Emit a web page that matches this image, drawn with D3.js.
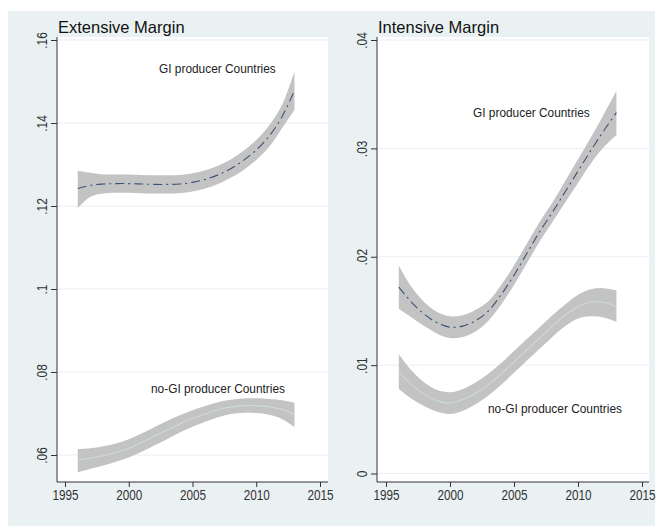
<!DOCTYPE html>
<html>
<head>
<meta charset="utf-8">
<script src="https://cdn.jsdelivr.net/npm/d3@7"></script>
<style>
  html, body { margin: 0; padding: 0; background: #ffffff; }
  svg { display: block; font-family: "Liberation Sans", Arial, sans-serif; }
</style>
</head>
<body>
<svg id="chart" width="661" height="526"></svg>
<script>
// Fitted trends with 95% confidence bands, 1996-2013
const years = [1996,1997,1998,1999,2000,2001,2002,2003,2004,2005,2006,2007,2008,2009,2010,2011,2012,2013];

// Extensive margin
const extGI      = [0.1242,0.1250,0.1253,0.1254,0.1254,0.1253,0.1252,0.1252,0.1253,0.1257,0.1264,0.1275,0.1290,0.1310,0.1335,0.1368,0.1414,0.1478];
const extGIlo    = [0.1195,0.1222,0.1230,0.1232,0.1232,0.1231,0.1230,0.1230,0.1231,0.1235,0.1242,0.1253,0.1268,0.1287,0.1311,0.1342,0.1386,0.1432];
const extGIhi    = [0.1285,0.1280,0.1276,0.1276,0.1276,0.1275,0.1274,0.1274,0.1275,0.1279,0.1286,0.1297,0.1312,0.1333,0.1359,0.1394,0.1442,0.1525];
const extNoGI    = [0.0588,0.0592,0.0598,0.0606,0.0616,0.0630,0.0645,0.0660,0.0675,0.0688,0.0699,0.0709,0.0716,0.0719,0.0719,0.0716,0.0710,0.0697];
const extNoGIlo  = [0.0558,0.0567,0.0575,0.0584,0.0594,0.0608,0.0623,0.0638,0.0654,0.0668,0.0680,0.0691,0.0699,0.0702,0.0701,0.0697,0.0687,0.0668];
const extNoGIhi  = [0.0614,0.0616,0.0621,0.0628,0.0638,0.0652,0.0667,0.0682,0.0696,0.0708,0.0718,0.0727,0.0733,0.0736,0.0737,0.0735,0.0732,0.0726];

// Intensive margin
const intGI      = [0.0172,0.0158,0.0147,0.0139,0.0135,0.0136,0.0141,0.0150,0.0165,0.0183,0.0203,0.0223,0.0241,0.0260,0.0279,0.0298,0.0316,0.0333];
const intGIlo    = [0.0152,0.0144,0.0136,0.0129,0.0125,0.0126,0.0131,0.0141,0.0156,0.0174,0.0194,0.0214,0.0232,0.0250,0.0268,0.0286,0.0301,0.0312];
const intGIhi    = [0.0192,0.0172,0.0158,0.0149,0.0145,0.0146,0.0151,0.0159,0.0174,0.0192,0.0212,0.0232,0.0250,0.0270,0.0290,0.0310,0.0331,0.0353];
const intNoGI    = [0.0094,0.0082,0.0073,0.0067,0.0065,0.0068,0.0074,0.0082,0.0092,0.0103,0.0114,0.0125,0.0136,0.0146,0.0154,0.0158,0.0158,0.0154];
const intNoGIlo  = [0.0078,0.0069,0.0062,0.0057,0.0055,0.0058,0.0064,0.0072,0.0082,0.0093,0.0104,0.0115,0.0126,0.0136,0.0143,0.0145,0.0144,0.0140];
const intNoGIhi  = [0.0110,0.0095,0.0084,0.0077,0.0075,0.0078,0.0084,0.0092,0.0102,0.0113,0.0124,0.0135,0.0146,0.0156,0.0165,0.0170,0.0171,0.0169];

const xTicks = [1995,2000,2005,2010,2015];
const extTicks = [0.06,0.08,0.10,0.12,0.14,0.16];
const intTicks = [0,0.01,0.02,0.03,0.04];

const seriesNames = ["GI producer Countries","no-GI producer Countries"];
const panelTitles = ["Extensive Margin","Intensive Margin"];

const svg = d3.select("#chart");

// graph region background
svg.append("rect").attr("x",8).attr("y",11).attr("width",647).attr("height",515).attr("fill","#eaf1f3");

const fmtTick = v => v === 0 ? "0" : d3.format(".2~f")(v).replace(/^0/, "");

function panel(cfg) {
  const g = svg.append("g");
  const x = d3.scaleLinear().domain([1995,2015]).range(cfg.xRange);
  const y = d3.scaleLinear().domain(cfg.yDomain).range(cfg.yRange);
  const [px0, px1, py0, py1] = cfg.plot;

  // plot region
  g.append("rect").attr("x",px0).attr("y",py0).attr("width",px1-px0).attr("height",py1-py0).attr("fill","#ffffff");

  // horizontal grid
  g.append("g").selectAll("line").data(cfg.yTicks).join("line")
    .attr("x1",px0).attr("x2",px1)
    .attr("y1",d=>y(d)).attr("y2",d=>y(d))
    .attr("stroke","#e8eff2").attr("stroke-width",1);

  const curve = d3.curveCatmullRom.alpha(0.5);
  cfg.series.forEach(s => {
    const area = d3.area().curve(curve)
      .x((d,i)=>x(years[i])).y0((d,i)=>y(s.lo[i])).y1((d,i)=>y(s.hi[i]));
    g.append("path").datum(s.mid).attr("d",area).attr("fill","#c3c3c3");
    const line = d3.line().curve(curve).x((d,i)=>x(years[i])).y(d=>y(d));
    g.append("path").datum(s.mid).attr("d",line).attr("fill","none")
      .attr("stroke",s.color).attr("stroke-width",s.width)
      .attr("stroke-dasharray",s.dash || null);
  });

  // series labels
  cfg.labels.forEach(l => {
    g.append("text").attr("transform",`translate(${l.x},${l.y}) scale(0.95,1)`)
      .attr("font-size",12.5).attr("fill","#222").text(l.text);
  });

  // axes
  const ya = g.append("g").attr("transform",`translate(${px0},0)`)
    .call(d3.axisLeft(y).tickValues(cfg.yTicks).tickFormat(fmtTick).tickSize(6).tickSizeOuter(0));
  ya.select(".domain").remove();
  ya.selectAll(".tick line").attr("stroke","#333");
  ya.selectAll(".tick text")
    .attr("x",null).attr("dy",null).attr("text-anchor","middle")
    .attr("transform","translate(-10,0) rotate(-90) scale(0.85,1)")
    .attr("font-size",14).attr("font-family","Liberation Sans, Arial, sans-serif").attr("fill","#333");
  g.append("line").attr("x1",px0).attr("x2",px0).attr("y1",py0).attr("y2",py1).attr("stroke","#333");

  const xa = g.append("g").attr("transform",`translate(0,${py1})`)
    .call(d3.axisBottom(x).tickValues(xTicks).tickFormat(d3.format("d")).tickSize(5).tickSizeOuter(0));
  xa.select(".domain").remove();
  xa.selectAll(".tick line").attr("stroke","#333");
  xa.selectAll(".tick text").attr("y",8).attr("transform","scale(0.84,1)")
    .attr("font-size",14).attr("font-family","Liberation Sans, Arial, sans-serif").attr("fill","#333");
  g.append("line").attr("x1",px0).attr("x2",px1).attr("y1",py1).attr("y2",py1).attr("stroke","#333");

  // title
  g.append("text").attr("x",cfg.titleX).attr("y",33).attr("font-size",16.5).attr("fill","#111").text(cfg.title);
}

panel({
  title: panelTitles[0], titleX: 58,
  xRange: [65,320], yDomain: [0.06,0.16], yRange: [455,40],
  plot: [57,328,37,482], yTicks: extTicks,
  series: [
    {mid: extGI, lo: extGIlo, hi: extGIhi, color: "#3a5275", width: 1.1, dash: "9,4,2,4"},
    {mid: extNoGI, lo: extNoGIlo, hi: extNoGIhi, color: "#ccd9df", width: 1.1}
  ],
  labels: [
    {text: seriesNames[0], x: 159, y: 73},
    {text: seriesNames[1], x: 151, y: 393}
  ]
});

panel({
  title: panelTitles[1], titleX: 378,
  xRange: [386,642], yDomain: [0,0.04], yRange: [473.5,40],
  plot: [377,649,37,482], yTicks: intTicks,
  series: [
    {mid: intGI, lo: intGIlo, hi: intGIhi, color: "#3a5275", width: 1.1, dash: "9,4,2,4"},
    {mid: intNoGI, lo: intNoGIlo, hi: intNoGIhi, color: "#ccd9df", width: 1.1}
  ],
  labels: [
    {text: seriesNames[0], x: 473, y: 117},
    {text: seriesNames[1], x: 488, y: 413}
  ]
});
</script>
</body>
</html>
